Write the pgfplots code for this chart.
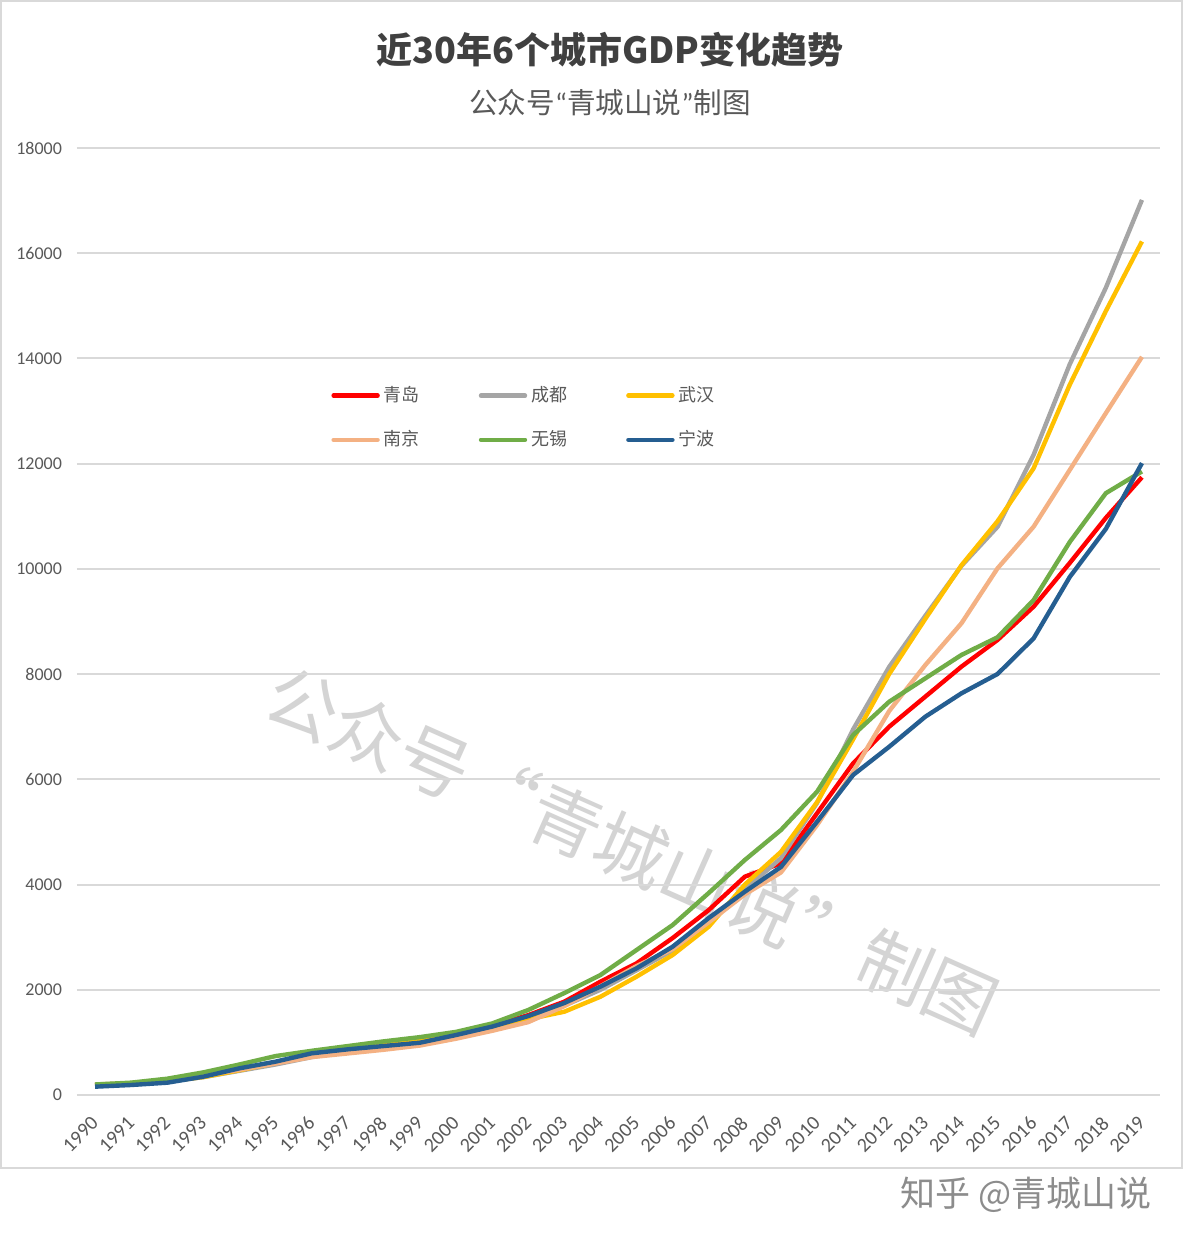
\documentclass[border=0pt]{standalone}
\usepackage{fontspec}
\setmainfont{Carlito}
\newfontfamily\cjk{Noto Sans CJK SC}
\usepackage{pgfplots}
\pgfplotsset{compat=1.18}
\usepackage{pgfplotstable}

\definecolor{cQD}{HTML}{FF0000}
\definecolor{cCD}{HTML}{A5A5A5}
\definecolor{cWH}{HTML}{FFC000}
\definecolor{cNJ}{HTML}{F4B183}
\definecolor{cWX}{HTML}{70AD47}
\definecolor{cNB}{HTML}{255E91}
\definecolor{gridc}{HTML}{D9D9D9}
\definecolor{tickc}{HTML}{595959}
\definecolor{titlec}{HTML}{404040}
\definecolor{wmc}{HTML}{D4D4D4}

% GDP, 100 million yuan
\pgfplotstableread{
year qd    cd    wh    nj    wx    nb
1990 180   190   177   200   200   158
1991 206   215   206   225   235   190
1992 263   260   260   280   310   234
1993 382   340   340   370   430   348
1994 490   460   470   480   580   507
1995 606   580   607   600   740   634
1996 773   720   782   720   840   792
1997 880   840   890   790   930   868
1998 970   930   980   860   1020  931
1999 1040  1000  1060  940   1100  994
2000 1150  1100  1170  1070  1200  1140
2001 1316  1250  1300  1220  1360  1300
2002 1518  1450  1440  1385  1616  1500
2003 1774  1700  1583  1690  1938  1749
2004 2154  2000  1868  2067  2281  2060
2005 2503  2371  2249  2451  2756  2408
2006 2984  2750  2661  2774  3231  2819
2007 3516  3324  3199  3284  3840  3364
2008 4150  3901  4000  3814  4467  3865
2009 4404  4503  4621  4230  5037  4334
2010 5355  5551  5566  5131  5765  5195
2011 6305  6950  6762  6146  6843  6083
2012 7002  8139  8004  7300  7476  6620
2013 7572  9109  9051  8173  7920  7191
2014 8142  10057 10069 8966  8364  7635
2015 8649  10801 10906 10011 8700  8002
2016 9283  12170 11913 10803 9409  8680
2017 10112 13889 13500 11880 10511 9846
2018 10970 15343 14900 12960 11439 10760
2019 11741 17013 16223 14030 11852 12010
}\gdp

\begin{document}
\begin{tikzpicture}
\path[use as bounding box] (0,0) rectangle (592pt,622pt);
\fill[white] (0,0) rectangle (592pt,622pt);
\draw[gridc, line width=1pt] (0.5pt,38pt) rectangle (591pt,621.5pt);
\node[font=\cjk\bfseries\fontsize{18}{20}\selectfont, text=titlec] at (305pt,597pt) {近30年6个城市GDP变化趋势};
\node[font=\cjk\fontsize{14.3}{16}\selectfont, text=tickc] at (305pt,570.5pt) {公众号{\rmfamily“}青城山说{\rmfamily”}制图};
\node[font=\cjk\fontsize{36}{40}\selectfont, text=wmc, rotate=-24] at (316pt,197pt) {公众号“青城山说”制图};
\begin{axis}[
  at={(38.5pt,74.5pt)}, anchor=south west,
  scale only axis, width=541.5pt, height=473.5pt,
  xmin=1989.5, xmax=2019.5, ymin=0, ymax=18000,
  xtick={1990,...,2019}, ytick={0,2000,...,18000},
  ymajorgrids, grid style={color=gridc, line width=1pt},
  axis line style={draw=none}, major tick length=0pt,
  scaled y ticks=false,
  /pgf/number format/assume math mode=true,
  /pgf/number format/1000 sep={},
  xticklabel style={xshift=0.7pt, yshift=-11.7pt, rotate=45, anchor=east, inner sep=1pt, font=\fontsize{10}{11}\selectfont, text=tickc},
  yticklabel style={xshift=-4pt, font=\fontsize{9}{11}\selectfont, text=tickc},
  every axis plot/.append style={line width=2.2pt, no markers, line join=round},
  legend columns=3,
  legend style={draw=none, fill=none, at={(0.229,0.757)}, anchor=north west,
    font=\cjk\fontsize{9}{11}\selectfont, text=tickc, row sep=9pt,
    /tikz/every even column/.append style={column sep=27.5pt}},
  legend image code/.code={\draw[#1, line cap=round] (0pt,0pt) -- (22pt,0pt);},
]
\addplot[cQD] table[x=year, y=qd] {\gdp};
\addlegendentry{青岛}
\addplot[cCD] table[x=year, y=cd] {\gdp};
\addlegendentry{成都}
\addplot[cWH] table[x=year, y=wh] {\gdp};
\addlegendentry{武汉}
\addplot[cNJ] table[x=year, y=nj] {\gdp};
\addlegendentry{南京}
\addplot[cWX] table[x=year, y=wx] {\gdp};
\addlegendentry{无锡}
\addplot[cNB] table[x=year, y=nb] {\gdp};
\addlegendentry{宁波}
\end{axis}
\node[font=\cjk\fontsize{17.5}{20}\selectfont, text=black!45] at (513pt,24.5pt) {知乎 @青城山说};
\end{tikzpicture}
\end{document}
